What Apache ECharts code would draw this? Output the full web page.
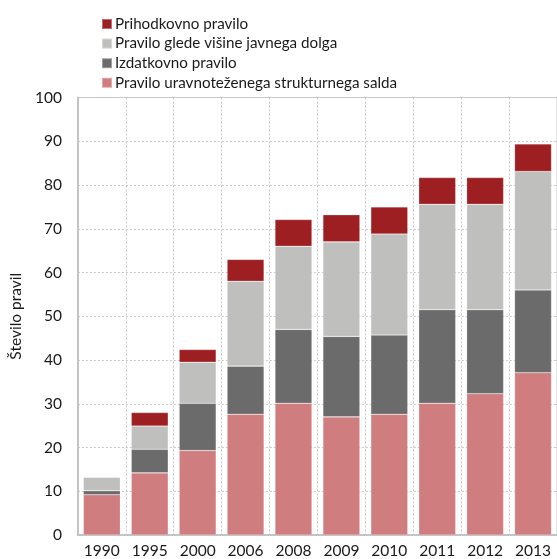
<!DOCTYPE html>
<html>
<head>
<meta charset="utf-8">
<script src="https://cdn.jsdelivr.net/npm/echarts@6/dist/echarts.min.js"></script>
<style>html,body{margin:0;padding:0;background:#fff;}#c{width:557px;height:559px;}</style>
</head>
<body>
<div id="c"></div>
<script>
var categories = ['1990','1995','2000','2006','2008','2009','2010','2011','2012','2013'];
var strukturniSaldo = [9.2, 14.2, 19.3, 27.6, 30.1, 27.0, 27.6, 30.1, 32.3, 37.1];
var izdatkovno = [0.9, 5.4, 10.8, 11.0, 16.9, 18.4, 18.1, 21.4, 19.2, 18.9];
var javniDolg = [3.1, 5.3, 9.4, 19.4, 19.0, 21.6, 23.1, 24.1, 24.1, 27.1];
var prihodkovno = [0, 3.1, 2.9, 5.0, 6.1, 6.2, 6.2, 6.1, 6.1, 6.3];
var yTicks = [0,10,20,30,40,50,60,70,80,90,100];

var FONT = 'Lato';
var chart = echarts.init(document.getElementById('c'), null, {renderer:'canvas'});
function ser(name, data, color){
  return {name:name, type:'bar', stack:'total', data:data, barWidth:37,
    itemStyle:{color:color, borderColor:'rgba(255,255,255,0.35)', borderWidth:0.6}};
}
chart.setOption({
  animation:false,
  textStyle:{fontFamily:FONT},
  legend:{
    orient:'vertical', left:96, top:11,
    itemWidth:10, itemHeight:10, itemGap:3.6,
    icon:'rect',
    textStyle:{fontFamily:FONT, fontSize:15.2, color:'#1a1a1a', lineHeight:16, padding:[0,0,0,-2]},
    data:['Prihodkovno pravilo','Pravilo glede višine javnega dolga','Izdatkovno pravilo','Pravilo uravnoteženega strukturnega salda']
  },
  grid:{left:76, top:97.5, width:483.5, height:438, show:true, borderColor:'#c8c8c8', borderWidth:1},
  xAxis:{
    type:'category', data:categories,
    axisLine:{lineStyle:{color:'#c4c4c4', width:2}},
    axisTick:{show:false},
    axisLabel:{fontFamily:FONT, fontSize:15.5, color:'#1a1a1a', margin:8, interval:0},
    splitLine:{show:true, interval:0, lineStyle:{color:'#c8c8c8', type:[2,2], width:1}}
  },
  yAxis:{
    type:'value', min:0, max:100, interval:10,
    name:'Število pravil', nameLocation:'middle', nameGap:52,
    nameTextStyle:{fontFamily:FONT, fontSize:15.5, color:'#1a1a1a'},
    axisLine:{show:true, lineStyle:{color:'#c4c4c4', width:2}},
    axisTick:{show:false},
    axisLabel:{fontFamily:FONT, fontSize:15.5, color:'#1a1a1a', margin:16,
      formatter:function(v){return yTicks.indexOf(v)>=0 ? String(v) : '';}},
    splitLine:{show:true, lineStyle:{color:'#c8c8c8', type:[2,2], width:1}}
  },
  series:[
    ser('Pravilo uravnoteženega strukturnega salda', strukturniSaldo, '#d07d7f'),
    ser('Izdatkovno pravilo', izdatkovno, '#6b6b6b'),
    ser('Pravilo glede višine javnega dolga', javniDolg, '#bfbfbd'),
    ser('Prihodkovno pravilo', prihodkovno, '#9d1f22')
  ]
});
</script>
</body>
</html>
